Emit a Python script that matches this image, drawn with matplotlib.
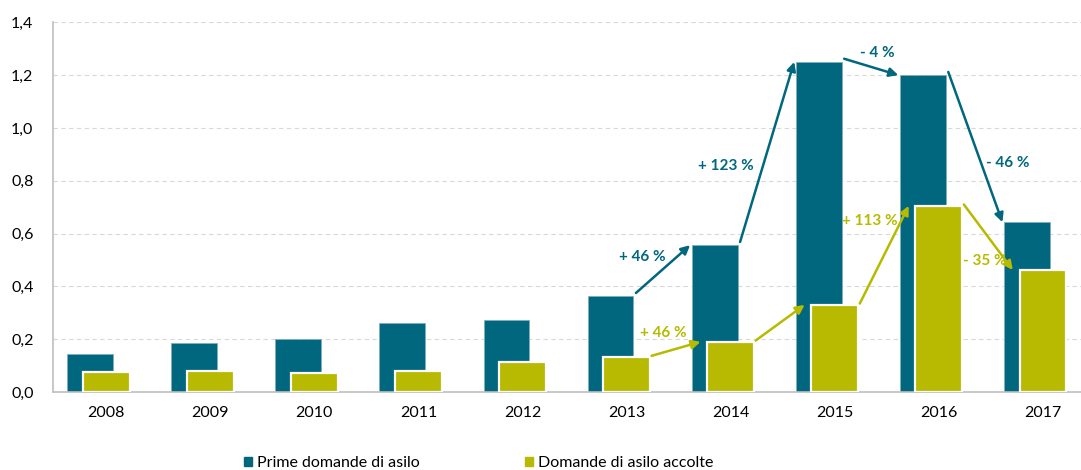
import numpy as np
import matplotlib
matplotlib.use("Agg")
import matplotlib.pyplot as plt
from matplotlib.patches import Patch

years = ["2008", "2009", "2010", "2011", "2012", "2013", "2014", "2015", "2016", "2017"]
prime = [0.145, 0.187, 0.200, 0.260, 0.272, 0.363, 0.556, 1.250, 1.200, 0.643]
accolte = [0.076, 0.080, 0.072, 0.080, 0.115, 0.132, 0.190, 0.330, 0.705, 0.462]

# variation labels: (index of start year, text, label position in data coords)
prime_changes = [(5, "+ 46 %", (5.15, 0.512)), (6, "+ 123 %", (5.95, 0.856)),
                 (7, "- 4 %", (7.41, 1.283)), (8, "- 46 %", (8.66, 0.868))]
accolte_changes = [(5, "+ 46 %", (5.35, 0.224)), (6, None, None),
                   (7, "+ 113 %", (7.34, 0.648)), (8, "- 35 %", (8.44, 0.496))]

TEAL = "#00677E"
OLIVE = "#B7BA00"

plt.rcParams["font.family"] = ["Lato", "DejaVu Sans"]

fig = plt.figure(figsize=(10.81, 4.70), dpi=100)
ax = fig.add_axes([53 / 1081, 1 - 392 / 470, 1 - 53 / 1081, (392 - 22.3) / 470])

x = np.arange(len(years))
ax.bar(x - 0.154, prime, width=0.44, color=TEAL, edgecolor="#7FAFBF", linewidth=0.6, zorder=2)
ax.bar(x, accolte, width=0.45, color=OLIVE, edgecolor="white", linewidth=1.6, zorder=3)

def draw_arrows(values, changes, color, dx0, dx1, dy0):
    for i, label, pos in changes:
        ax.annotate("", xy=(i + 1 + dx1, values[i + 1]), xytext=(i + dx0, values[i] + dy0),
                    arrowprops=dict(arrowstyle="-|>", color=color, lw=1.8,
                                    mutation_scale=13, shrinkA=0, shrinkB=0),
                    zorder=5)
        if label:
            ax.text(pos[0], pos[1], label, color=color, fontsize=11, fontweight="bold",
                    ha="center", va="center", zorder=6)

draw_arrows(prime, prime_changes, TEAL, 0.09, -0.39, 0.012)
draw_arrows(accolte, accolte_changes, OLIVE, 0.24, -0.29, 0.005)

ax.set_ylim(0, 1.4)
ax.set_xlim(-0.51, 9 + 38 / 104.1)
ax.set_yticks(np.arange(0, 1.41, 0.2))
ax.set_yticklabels([f"{v:.1f}".replace(".", ",") for v in np.arange(0, 1.41, 0.2)])
ax.set_xticks(x)
ax.set_xticklabels(years)
ax.tick_params(axis="both", length=0, labelsize=11.5, colors="black")
ax.tick_params(axis="y", pad=14)
ax.tick_params(axis="x", pad=10)
ax.yaxis.grid(True, color="#D9D9D9", linestyle=(0, (4, 3)), linewidth=0.8, zorder=0)
ax.set_axisbelow(True)
for s in ["top", "right"]:
    ax.spines[s].set_visible(False)
for s in ["left", "bottom"]:
    ax.spines[s].set_color("#BFBFBF")
    ax.spines[s].set_linewidth(1.2)

handles = [Patch(color=TEAL, label="Prime domande di asilo"),
           Patch(color=OLIVE, label="Domande di asilo accolte")]
fig.legend(handles=handles, loc="center", bbox_to_anchor=(479 / 1081, 7 / 470), ncol=2,
           frameon=False, fontsize=11.5, handlelength=0.5, handleheight=0.5,
           handletextpad=0.3, columnspacing=6.6, borderpad=0)

fig.savefig("out.png", dpi=100)
